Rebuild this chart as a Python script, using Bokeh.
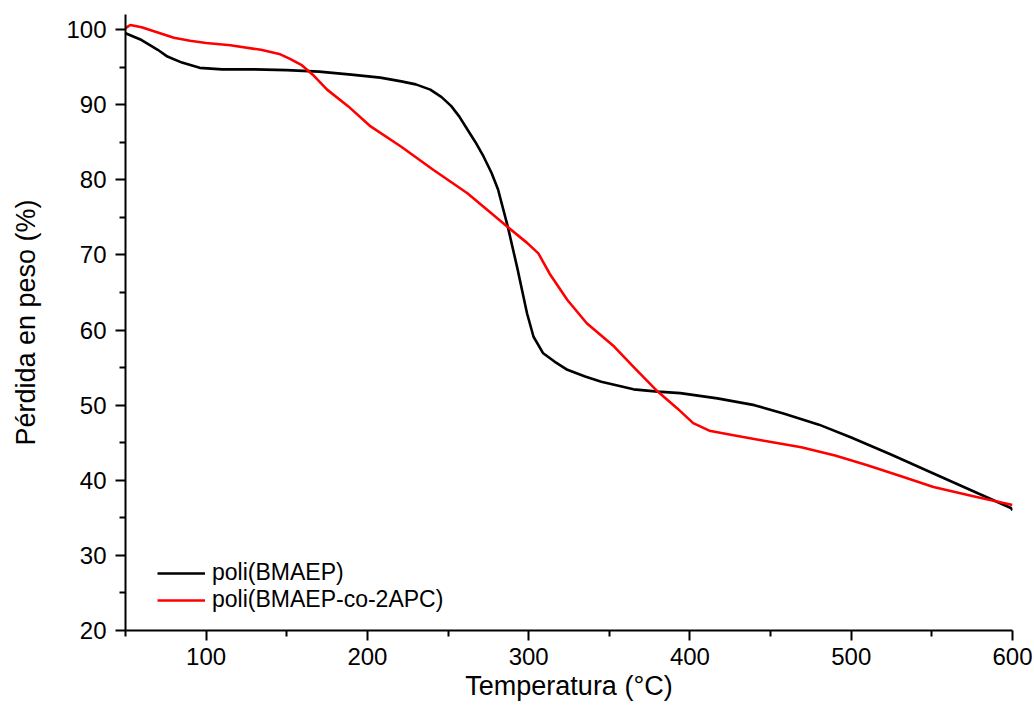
from bokeh.plotting import figure
from bokeh.models import Range1d, FixedTicker
from bokeh.embed import file_html
from bokeh.resources import INLINE

# Data
temp_bmaep = [50, 60, 70, 76, 85, 96, 110, 130, 150, 170, 190, 208, 221, 230,
              239, 246, 252, 257, 262, 267, 272, 277, 281, 287, 290, 293, 296,
              299, 303, 309, 316, 324, 335, 345, 365, 380, 394, 417, 440, 458,
              480, 500, 525, 551, 575, 599, 600]
peso_bmaep = [99.5, 98.6, 97.3, 96.4, 95.6, 94.9, 94.7, 94.7, 94.6, 94.4, 94.0,
              93.6, 93.1, 92.7, 92.0, 91.0, 89.8, 88.4, 86.7, 85.0, 83.1, 80.9,
              78.7, 73.8, 71.0, 68.2, 65.2, 62.2, 59.1, 56.9, 55.8, 54.7, 53.8,
              53.1, 52.1, 51.8, 51.6, 50.9, 50.0, 48.9, 47.4, 45.7, 43.4, 40.9,
              38.6, 36.3, 36.0]

temp_copol = [50, 53, 60, 70, 80, 90, 100, 115, 134, 146, 152, 159, 167, 175,
              188, 202, 221, 241, 262, 287, 299, 306, 313, 324, 336, 353, 365,
              380, 392, 402, 412, 427, 445, 469, 490, 510, 530, 551, 575, 600]
peso_copol = [100.2, 100.6, 100.3, 99.6, 98.9, 98.5, 98.2, 97.9, 97.3, 96.7,
              96.1, 95.3, 93.8, 92.0, 89.8, 87.1, 84.4, 81.3, 78.2, 73.7, 71.6,
              70.2, 67.5, 64.0, 60.9, 57.8, 55.1, 51.8, 49.6, 47.6, 46.6, 46.0,
              45.3, 44.4, 43.3, 42.0, 40.6, 39.1, 37.9, 36.7]

x_major = [100, 200, 300, 400, 500, 600]
x_minor = [50, 150, 250, 350, 450, 550]
y_major = [20, 30, 40, 50, 60, 70, 80, 90, 100]
y_minor = [25, 35, 45, 55, 65, 75, 85, 95]

FONT = "Liberation Sans"

p = figure(width=1034, height=711,
           x_range=Range1d(50, 600), y_range=Range1d(20, 102),
           output_backend="svg", toolbar_location=None,
           min_border_left=125, min_border_right=22,
           min_border_top=14, min_border_bottom=81)

p.outline_line_color = None
p.grid.grid_line_color = None
p.background_fill_color = "white"
p.border_fill_color = "white"

p.line(temp_bmaep, peso_bmaep, line_color="black", line_width=2.6,
       line_join="round", legend_label="poli(BMAEP)")
p.line(temp_copol, peso_copol, line_color="#ff0000", line_width=2.6,
       line_join="round", legend_label="poli(BMAEP-co-2APC)")

p.xaxis.ticker = FixedTicker(ticks=x_major, minor_ticks=x_minor)
p.yaxis.ticker = FixedTicker(ticks=y_major, minor_ticks=y_minor)

for ax in (p.xaxis[0], p.yaxis[0]):
    ax.axis_line_color = "black"
    ax.axis_line_width = 2
    ax.major_tick_line_color = "black"
    ax.major_tick_line_width = 2
    ax.minor_tick_line_color = "black"
    ax.minor_tick_line_width = 2
    ax.major_tick_out = 10
    ax.major_tick_in = 0
    ax.minor_tick_out = 6
    ax.minor_tick_in = 0
    ax.major_label_text_font = FONT
    ax.major_label_text_font_size = "24px"
    ax.major_label_text_color = "black"
    ax.axis_label_text_font = FONT
    ax.axis_label_text_font_size = "27px"
    ax.axis_label_text_font_style = "normal"
    ax.axis_label_text_color = "black"

p.xaxis.axis_label = "Temperatura (°C)"
p.yaxis.axis_label = "Pérdida en peso (%)"
p.xaxis.major_label_standoff = 7
p.xaxis.axis_label_standoff = 3
p.yaxis.major_label_standoff = 9
p.yaxis.axis_label_standoff = 22

leg = p.legend[0]
leg.location = (32, 17)
leg.border_line_color = None
leg.background_fill_alpha = 0
leg.padding = 0
leg.margin = 0
leg.spacing = 0
leg.glyph_width = 48
leg.glyph_height = 20
leg.label_height = 20
leg.label_standoff = 7
leg.label_text_font = FONT
leg.label_text_font_size = "23px"
leg.label_text_color = "black"

open("out.html", "w").write(file_html(p, INLINE))
